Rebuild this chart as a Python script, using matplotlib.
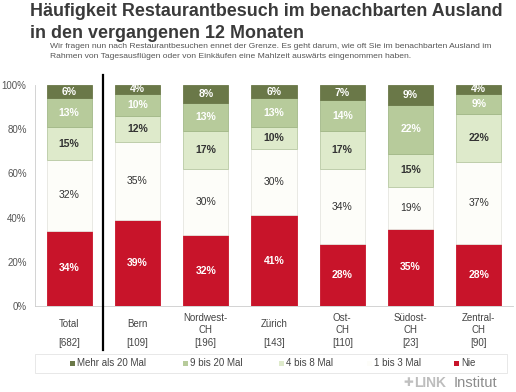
import matplotlib
matplotlib.use("Agg")
import matplotlib.pyplot as plt
from matplotlib.patches import Rectangle
import numpy as np

plt.rcParams['font.family'] = ['Liberation Sans', 'DejaVu Sans']

categories = ["Total", "Bern", "Nordwest-\nCH", "Zürich", "Ost-\nCH", "Südost-\nCH", "Zentral-\nCH"]
counts = ["[682]", "[109]", "[196]", "[143]", "[110]", "[23]", "[90]"]
series_names = ["Nie", "1 bis 3 Mal", "4 bis 8 Mal", "9 bis 20 Mal", "Mehr als 20 Mal"]
nie = [34, 39, 32, 41, 28, 35, 28]
mal_1_3 = [32, 35, 30, 30, 34, 19, 37]
mal_4_8 = [15, 12, 17, 10, 17, 15, 22]
mal_9_20 = [13, 10, 13, 13, 14, 22, 9]
mal_20p = [6, 4, 8, 6, 7, 9, 4]
yticks = [0, 20, 40, 60, 80, 100]

series = [nie, mal_1_3, mal_4_8, mal_9_20, mal_20p]
colors = ["#c8142a", "#fdfdf9", "#deeacb", "#b7cb9b", "#6a7848"]
edge = ["#c8142a", "#e6e6e0", "#b9c9a4", "#a3b888", "#6a7848"]
lab_colors = ["white", "#333333", "#333333", "white", "white"]
lab_weight = ["bold", "normal", "bold", "bold", "bold"]

fig = plt.figure(figsize=(5.16, 3.92), dpi=100)
fig.patch.set_facecolor("white")
ax = fig.add_axes([35/516, 1-306/392, 478/516, 221/392])

x = np.arange(len(categories))
bottom = np.zeros(len(categories))
for s, c, ec, lc, lw in zip(series, colors, edge, lab_colors, lab_weight):
    vals = np.array(s, dtype=float)
    ax.bar(x, vals, bottom=bottom, width=0.66, color=c, edgecolor=ec, linewidth=0.6)
    for xi, b, v in zip(x, bottom, vals):
        ax.text(xi, b + v/2, f"{int(v)}%", ha="center", va="center",
                fontsize=7.5, color=lc, fontweight=lw)
    bottom += vals

ax.set_xlim(-0.5, len(categories) - 0.5)
ax.set_ylim(0, 100)
ax.set_yticks(yticks)
ax.set_yticklabels([f"{t}%" for t in yticks], color="#555555", fontsize=7)
ax.tick_params(axis="y", length=0, pad=6)
ax.set_xticks([])
for sp in ["top", "right"]:
    ax.spines[sp].set_visible(False)
ax.spines["left"].set_color("#cccccc")
ax.spines["bottom"].set_color("#cccccc")
ax.spines["left"].set_linewidth(0.6)
ax.spines["bottom"].set_linewidth(0.6)

# category labels
for xi, cat, cnt in zip(x, categories, counts):
    ax.annotate(cat, xy=(xi, 0), xycoords=("data", "axes fraction"),
                xytext=(0, -13), textcoords="offset points",
                ha="center", va="center", fontsize=7, color="#444444", linespacing=1.25)
    ax.annotate(cnt, xy=(xi, 0), xycoords=("data", "axes fraction"),
                xytext=(0, -27), textcoords="offset points",
                ha="center", va="center", fontsize=7, color="#444444")

# divider line
fig.add_artist(plt.Line2D([103/516, 103/516], [1-75/392, 1-350/392], color="black", linewidth=1.6))

# title
fig.text(30/516, 1-12/392, "Häufigkeit Restaurantbesuch im benachbarten Ausland",
         fontsize=12.9, fontweight="bold", color="#3a3a3a", va="center", ha="left")
fig.text(30/516, 1-33/392, "in den vergangenen 12 Monaten",
         fontsize=12.9, fontweight="bold", color="#3a3a3a", va="center", ha="left")
fig.text(50/516, 1-47/392,
         "Wir fragen nun nach Restaurantbesuchen ennet der Grenze. Es geht darum, wie oft Sie im benachbarten Ausland im",
         fontsize=6.1, color="#555555", va="center", ha="left")
fig.text(50/516, 1-56/392,
         "Rahmen von Tagesausflügen oder von Einkäufen eine Mahlzeit auswärts eingenommen haben.",
         fontsize=6.1, color="#555555", va="center", ha="left")

# legend box
fig.add_artist(Rectangle((35/516, 1-373/392), 472/516, 19/392, transform=fig.transFigure,
                         facecolor="white", edgecolor="#e4e4e4", linewidth=0.6))
leg_x = [73, 186, 282, 370, 457]
leg_order = [4, 3, 2, 1, 0]
for lx, idx in zip(leg_x, leg_order):
    fig.add_artist(Rectangle(((lx-3)/516, 1-366/392), 5/516, 5/392, transform=fig.transFigure,
                             facecolor=colors[idx], edgecolor="none"))
    fig.text((lx+4)/516, 1-363.5/392, series_names[idx], fontsize=7, color="#444444",
             va="center", ha="left")

# logo
fig.text(403/516, 1-383/392, "✚", fontsize=8.5, color="#c0c0c0", va="center", ha="left",
         family=["DejaVu Sans"])
fig.text(414/516, 1-383/392, "LINK", fontsize=10, fontweight="bold", color="#bdbdbd",
         va="center", ha="left")
fig.text(454/516, 1-383/392, "Institut", fontsize=10.5, color="#8c8c8c", va="center", ha="left")

fig.savefig("out.png", dpi=100, facecolor="white")
